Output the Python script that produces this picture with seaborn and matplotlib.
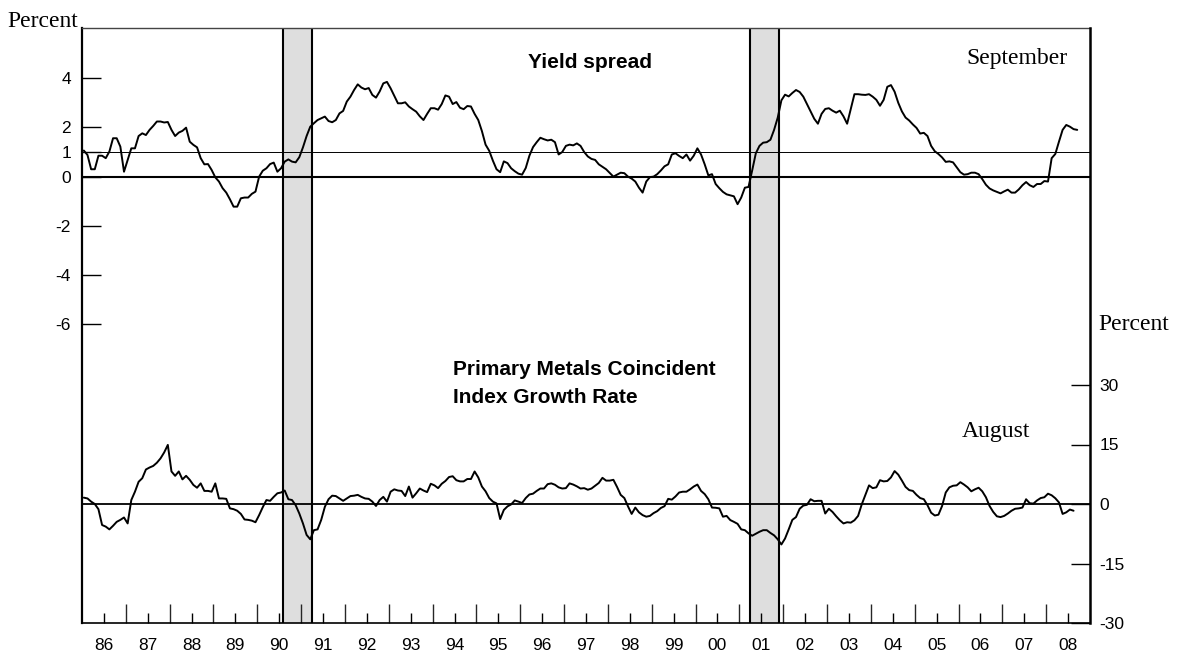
import numpy as np
import pandas as pd
import matplotlib
matplotlib.use("Agg")
import matplotlib.pyplot as plt
import seaborn as sns

sns.set_theme(style="white")
plt.rcParams["font.family"] = ["Liberation Sans", "DejaVu Sans"]
plt.rcParams["text.color"] = "black"

# --- Data (monthly) ---

# Yield spread, percent, Jan 1986 - Sep 2008
yield_1986 = [1.06, 0.88, 0.30, 0.30, 0.85, 0.85, 0.75, 1.02, 1.56, 1.56, 1.22, 0.20]
yield_1987 = [0.68, 1.15, 1.15, 1.65, 1.76, 1.69, 1.90, 2.06, 2.24, 2.24, 2.20, 2.22]
yield_1988 = [1.90, 1.65, 1.79, 1.86, 1.99, 1.42, 1.29, 1.19, 0.75, 0.50, 0.51, 0.27]
yield_1989 = [-0.03, -0.20, -0.47, -0.65, -0.92, -1.22, -1.22, -0.88, -0.85, -0.85, -0.70, -0.61]
yield_1990 = [0.00, 0.24, 0.34, 0.51, 0.57, 0.20, 0.34, 0.61, 0.70, 0.61, 0.58, 0.79]
yield_1991 = [1.19, 1.65, 2.03, 2.17, 2.30, 2.37, 2.44, 2.26, 2.21, 2.30, 2.57, 2.67]
yield_1992 = [3.05, 3.25, 3.52, 3.75, 3.62, 3.55, 3.60, 3.32, 3.21, 3.46, 3.79, 3.85]
yield_1993 = [3.59, 3.28, 2.98, 2.98, 3.02, 2.85, 2.74, 2.64, 2.45, 2.30, 2.55, 2.78]
yield_1994 = [2.78, 2.72, 2.95, 3.30, 3.25, 2.95, 3.03, 2.80, 2.74, 2.87, 2.85, 2.55]
yield_1995 = [2.30, 1.85, 1.30, 1.05, 0.65, 0.30, 0.18, 0.62, 0.55, 0.34, 0.22, 0.12]
yield_1996 = [0.08, 0.35, 0.85, 1.20, 1.40, 1.58, 1.52, 1.47, 1.50, 1.40, 0.90, 1.00]
yield_1997 = [1.25, 1.30, 1.27, 1.35, 1.25, 1.00, 0.82, 0.72, 0.68, 0.50, 0.40, 0.30]
yield_1998 = [0.15, 0.00, 0.08, 0.16, 0.14, 0.00, -0.08, -0.20, -0.45, -0.65, -0.20, -0.02]
yield_1999 = [0.00, 0.10, 0.25, 0.42, 0.50, 0.90, 0.95, 0.84, 0.75, 0.90, 0.65, 0.85]
yield_2000 = [1.15, 0.90, 0.50, 0.05, 0.10, -0.30, -0.47, -0.62, -0.72, -0.76, -0.80, -1.12]
yield_2001 = [-0.85, -0.45, -0.42, 0.25, 0.95, 1.25, 1.38, 1.40, 1.50, 1.90, 2.40, 3.10]
yield_2002 = [3.33, 3.26, 3.40, 3.52, 3.44, 3.25, 2.95, 2.65, 2.35, 2.15, 2.55, 2.75]
yield_2003 = [2.78, 2.68, 2.60, 2.68, 2.45, 2.15, 2.75, 3.35, 3.35, 3.33, 3.32, 3.35]
yield_2004 = [3.25, 3.12, 2.88, 3.12, 3.65, 3.72, 3.45, 3.00, 2.65, 2.40, 2.28, 2.12]
yield_2005 = [1.98, 1.75, 1.78, 1.65, 1.25, 1.03, 0.92, 0.78, 0.60, 0.62, 0.58, 0.38]
yield_2006 = [0.18, 0.08, 0.10, 0.16, 0.16, 0.10, -0.10, -0.33, -0.48, -0.56, -0.62, -0.68]
yield_2007 = [-0.60, -0.53, -0.65, -0.65, -0.52, -0.35, -0.22, -0.35, -0.42, -0.30, -0.30, -0.18]
yield_2008 = [-0.20, 0.75, 0.92, 1.42, 1.90, 2.10, 2.03, 1.93, 1.90]

# Primary metals coincident index growth rate, percent, Jan 1986 - Aug 2008
metals_1986 = [1.6, 1.4, 0.6, 0.0, -1.3, -5.3, -5.7, -6.4, -5.5, -4.5, -4.0, -3.4]
metals_1987 = [-4.9, 1.0, 3.1, 5.6, 6.5, 8.7, 9.2, 9.6, 10.4, 11.5, 13.0, 14.9]
metals_1988 = [8.2, 7.1, 8.2, 6.2, 7.1, 6.1, 4.8, 4.1, 5.2, 3.3, 3.3, 3.1]
metals_1989 = [5.2, 1.4, 1.4, 1.3, -1.1, -1.3, -1.7, -2.5, -3.9, -4.0, -4.2, -4.6]
metals_1990 = [-2.8, -0.8, 1.0, 0.8, 1.8, 2.7, 2.9, 3.4, 1.2, 1.0, -0.3, -2.4]
metals_1991 = [-4.9, -7.8, -8.9, -6.6, -6.4, -4.0, -0.7, 1.2, 2.1, 2.0, 1.4, 0.8]
metals_1992 = [1.4, 2.0, 2.1, 2.3, 1.8, 1.4, 1.3, 0.6, -0.5, 1.0, 1.8, 0.6]
metals_1993 = [3.1, 3.7, 3.4, 3.3, 2.0, 4.4, 1.6, 2.7, 3.9, 3.4, 3.0, 5.1]
metals_1994 = [4.7, 4.0, 5.1, 5.8, 6.8, 7.0, 6.0, 5.7, 5.7, 6.3, 6.3, 8.2]
metals_1995 = [6.7, 4.4, 3.2, 1.5, 0.6, 0.15, -3.8, -1.5, -0.6, -0.1, 0.9, 0.6]
metals_1996 = [0.25, 1.5, 2.4, 2.6, 3.3, 3.9, 3.9, 5.0, 5.2, 4.85, 4.2, 3.9]
metals_1997 = [4.0, 5.2, 4.9, 4.45, 3.9, 4.0, 3.6, 3.9, 4.6, 5.3, 6.6, 5.9]
metals_1998 = [5.9, 6.1, 4.3, 2.3, 1.5, -0.6, -2.5, -0.9, -2.1, -2.8, -3.2, -3.0]
metals_1999 = [-2.3, -1.8, -1.0, -0.55, 1.3, 1.1, 1.9, 2.9, 3.1, 3.1, 3.7, 4.4]
metals_2000 = [4.9, 3.3, 2.5, 1.2, -0.9, -0.95, -1.1, -3.2, -3.0, -4.05, -4.5, -5.0]
metals_2001 = [-6.4, -6.6, -7.4, -8.0, -7.5, -7.0, -6.6, -6.6, -7.3, -7.9, -8.9, -10.2]
metals_2002 = [-8.7, -6.4, -4.0, -3.3, -1.2, -0.4, -0.2, 1.2, 0.7, 0.8, 0.8, -2.4]
metals_2003 = [-1.2, -2.0, -3.1, -4.1, -4.9, -4.6, -4.7, -4.1, -3.0, -0.1, 2.3, 4.7]
metals_2004 = [4.0, 4.2, 6.0, 5.7, 5.8, 6.7, 8.3, 7.4, 5.9, 4.3, 3.5, 3.3]
metals_2005 = [2.3, 1.5, 1.2, -0.3, -2.2, -2.9, -2.7, -0.5, 2.9, 4.2, 4.6, 4.7]
metals_2006 = [5.5, 4.9, 4.2, 3.2, 3.7, 4.1, 3.2, 1.7, -0.5, -2.0, -3.1, -3.3]
metals_2007 = [-3.0, -2.4, -1.7, -1.2, -1.1, -0.9, 1.2, 0.2, 0.1, 0.9, 1.5, 1.7]
metals_2008 = [2.6, 2.2, 1.45, 0.4, -2.5, -2.1, -1.4, -1.7]

yield_spread = (yield_1986 + yield_1987 + yield_1988 + yield_1989 + yield_1990 + yield_1991
                + yield_1992 + yield_1993 + yield_1994 + yield_1995 + yield_1996 + yield_1997
                + yield_1998 + yield_1999 + yield_2000 + yield_2001 + yield_2002 + yield_2003
                + yield_2004 + yield_2005 + yield_2006 + yield_2007 + yield_2008)
metals = (metals_1986 + metals_1987 + metals_1988 + metals_1989 + metals_1990 + metals_1991
          + metals_1992 + metals_1993 + metals_1994 + metals_1995 + metals_1996 + metals_1997
          + metals_1998 + metals_1999 + metals_2000 + metals_2001 + metals_2002 + metals_2003
          + metals_2004 + metals_2005 + metals_2006 + metals_2007 + metals_2008)

start_year = 1986
end_year = 2009
recessions = [(1990.58, 1991.25), (2001.24, 2001.90)]
year_labels = ["86", "87", "88", "89", "90", "91", "92", "93", "94", "95", "96", "97",
               "98", "99", "00", "01", "02", "03", "04", "05", "06", "07", "08"]


def month_positions(n):
    # mid-month positions in decimal years
    return start_year + (np.arange(n) + 0.5) / 12


df_yield = pd.DataFrame({"date": month_positions(len(yield_spread)), "value": yield_spread})
df_metals = pd.DataFrame({"date": month_positions(len(metals)), "value": metals})

# --- Figure ---
W, H = 1178, 655
fig = plt.figure(figsize=(W / 100, H / 100), dpi=100)
ax = fig.add_axes([82 / W, 1 - 623 / H, (1090 - 82) / W, (623 - 28) / H])
ax2 = ax.twinx()

# recession bands
for a, b in recessions:
    ax.axvspan(a, b, color="#dedede", lw=0, zorder=0)
    ax.axvline(a, color="black", lw=1.5, zorder=1)
    ax.axvline(b, color="black", lw=1.5, zorder=1)

ax.axhline(0, color="black", lw=1.5, zorder=1)
ax.axhline(1, color="black", lw=0.7, zorder=1)
ax2.axhline(0, color="black", lw=1.3, zorder=1)

sns.lineplot(data=df_yield, x="date", y="value", ax=ax, color="black", lw=1.4, zorder=3)
sns.lineplot(data=df_metals, x="date", y="value", ax=ax2, color="black", lw=1.4, zorder=3)

ax.set_xlim(start_year, end_year)
ax.set_ylim(-18.14, 6.04)
ax2.set_ylim(-30, 120)
for a_ in (ax, ax2):
    a_.set_xlabel("")
    a_.set_ylabel("")
    a_.grid(False)

# left axis
ax.set_yticks([4, 2, 1, 0, -2, -4, -6])
ax.set_yticklabels(["4", "2", "1", "0", "-2", "-4", "-6"])
ax.tick_params(axis="y", left=True, right=False, direction="in", length=13.5, width=1,
               pad=8, labelsize=12.5, colors="black")

# right axis
ax2.set_yticks([30, 15, 0, -15, -30])
ax2.set_yticklabels(["30", "15", "0", "-15", "-30"])
ax2.tick_params(axis="y", right=True, left=False, direction="in", length=14, width=1,
                pad=7, labelsize=12.5, colors="black")

# x axis: year boundaries as tall ticks, labels at mid-year
ax.set_xticks(np.arange(start_year + 1, end_year))
ax.set_xticklabels([])
ax.set_xticks(np.arange(start_year, end_year) + 0.5, minor=True)
ax.set_xticklabels(year_labels, minor=True)
ax.tick_params(axis="x", which="major", bottom=True, direction="in", length=14, width=1)
ax.tick_params(axis="x", which="minor", bottom=True, direction="in", length=7, width=1,
               pad=11, labelsize=12.5, colors="black")

for s in ax2.spines.values():
    s.set_visible(False)
ax2.spines["right"].set_visible(True)
ax2.spines["right"].set_color("black")
ax2.spines["right"].set_linewidth(1.8)
ax.spines["right"].set_visible(False)
ax.spines["left"].set_color("black")
ax.spines["left"].set_linewidth(1.6)
ax.spines["bottom"].set_color("black")
ax.spines["bottom"].set_linewidth(1.2)
ax.spines["top"].set_color("#444444")
ax.spines["top"].set_linewidth(1.0)

# --- Text ---
serif = ["Liberation Serif", "DejaVu Serif"]
fig.text(7 / W, 1 - 27 / H, "Percent", family=serif, fontsize=17, ha="left", va="baseline",
         color="black")
fig.text(1098 / W, 1 - 330 / H, "Percent", family=serif, fontsize=17, ha="left", va="baseline",
         color="black")
fig.text(966 / W, 1 - 64 / H, "September", family=serif, fontsize=17, ha="left", va="baseline",
         color="black")
fig.text(962 / W, 1 - 437 / H, "August", family=serif, fontsize=17, ha="left", va="baseline",
         color="black")
fig.text(590 / W, 1 - 68 / H, "Yield spread", fontsize=15, fontweight="bold",
         ha="center", va="baseline", color="black")
fig.text(453 / W, 1 - 375 / H, "Primary Metals Coincident", fontsize=15, fontweight="bold",
         ha="left", va="baseline", color="black")
fig.text(453 / W, 1 - 403 / H, "Index Growth Rate", fontsize=15, fontweight="bold",
         ha="left", va="baseline", color="black")

fig.savefig("out.png", dpi=100)
